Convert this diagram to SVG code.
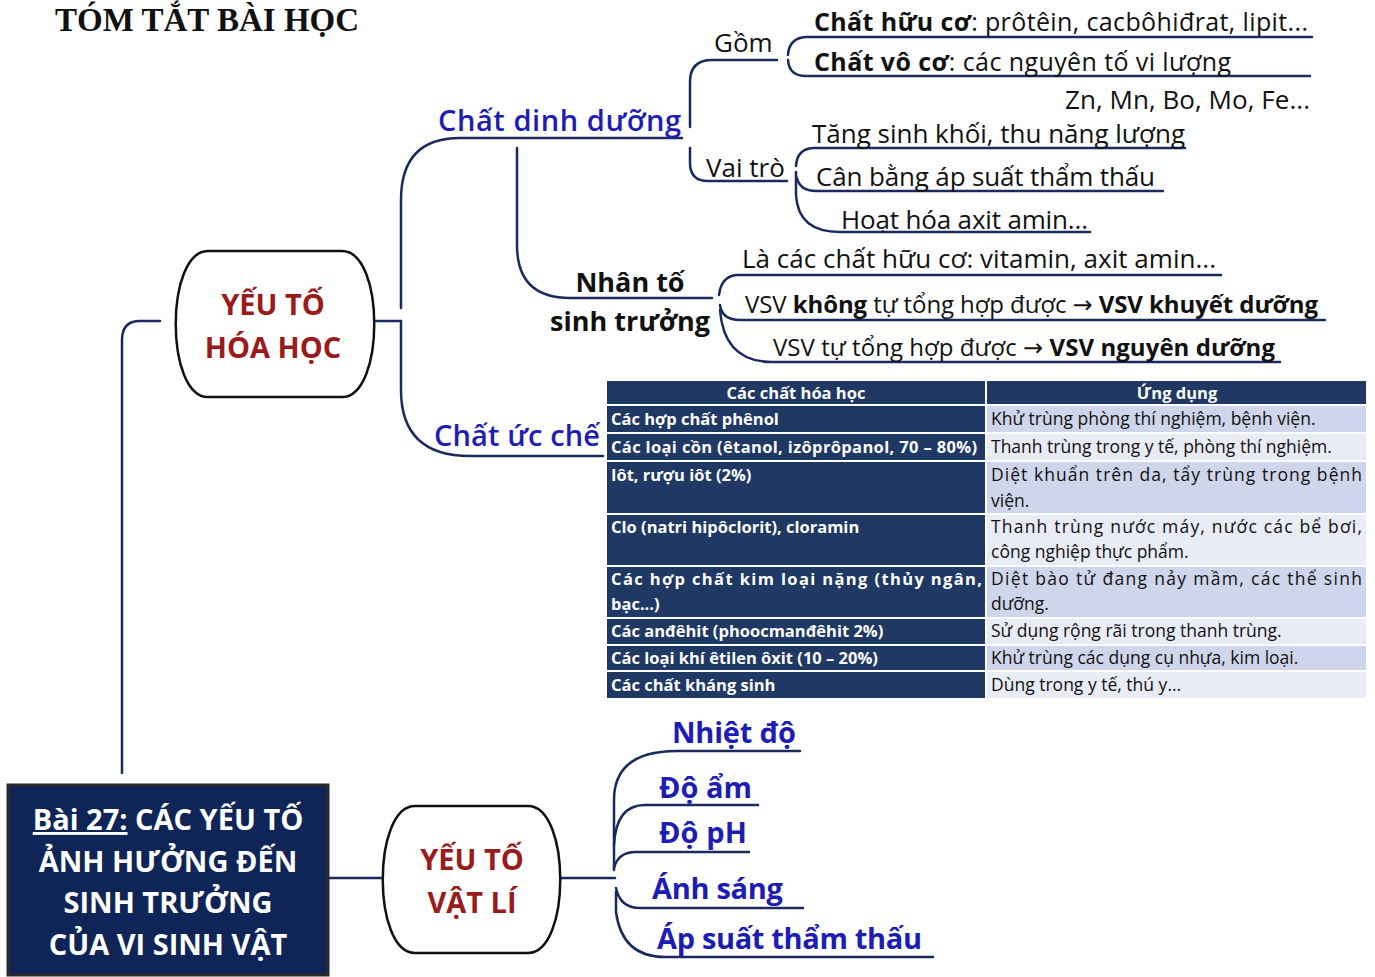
<svg xmlns="http://www.w3.org/2000/svg" width="1375" height="977" viewBox="0 0 1375 977">
<style>
.c{fill:none;stroke:#1b2a5e;stroke-width:2.5;stroke-linecap:round}
.f{font-family:"Open Sans","Noto Sans","DejaVu Sans",sans-serif}
.reg{font-size:26px;fill:#111}
.sm{font-size:24px;fill:#111}
.md{font-size:25px;fill:#111}
.bk{font-size:27px;font-weight:700;fill:#111}
.bl{font-size:29px;font-weight:700;fill:#1d1db5}
.bl6{font-size:29px;font-weight:600;fill:#1d1db5}
.red{font-size:29px;font-weight:700;fill:#9a1b1b;text-anchor:middle}
.wh{font-size:29px;font-weight:700;fill:#fff;text-anchor:middle}
.node{fill:#fff;stroke:#111;stroke-width:2.5}
.hd{fill:#1f3864}
.d1{fill:#cfd5ea}
.d2{fill:#e9ebf5}
.tl{font-size:16.5px;font-weight:700;fill:#fff}
.th{font-size:16.5px;font-weight:700;fill:#fff;text-anchor:middle}
.tr{font-size:17.5px;fill:#111}
.grid{stroke:#fff;stroke-width:2}
</style>
<rect width="1375" height="977" fill="#fff"/>
<text id="title" x="55" y="31" font-family="Liberation Serif, serif" font-size="33" font-weight="700" fill="#111">TÓM TẮT BÀI HỌC</text>

<g id="connectors">
<path class="c" d="M160,321 H140 Q122,321 122,340 V773"/>
<path class="c" d="M328,878 H383"/>
<path class="c" d="M370,321 H401"/>
<path class="c" d="M401,308 V200 Q401,138 460,138 H682"/>
<path class="c" d="M401,321 V390 Q401,456 470,456 H603"/>
<path class="c" d="M690,127 V82 Q690,60 712,60 H777"/>
<path class="c" d="M690,148 V163 Q690,181 708,181 H787"/>
<path class="c" d="M1312,37 H806 Q789,38 788,55"/>
<path class="c" d="M788,60 Q789,76 806,76 H1310"/>
<path class="c" d="M1185,148 H813 Q797,149 796,166"/>
<path class="c" d="M797,178 Q800,191 816,191 H1163"/>
<path class="c" d="M796,172 V195 Q798,232 840,232 H1090"/>
<path class="c" d="M517,148 V245 Q517,298 570,298 H712"/>
<path class="c" d="M1221,275 H736 Q721,277 719,295"/>
<path class="c" d="M720,305 Q722,320 740,320 H1325"/>
<path class="c" d="M720,310 Q724,362 772,362 H1280"/>
<path class="c" d="M560,878 H615"/>
<path class="c" d="M614,870 V800 Q614,751 677,751 H800"/>
<path class="c" d="M614,845 Q616,805 645,805 H758"/>
<path class="c" d="M614,868 Q618,852 636,852 H749"/>
<path class="c" d="M616,888 Q620,908 640,908 H803"/>
<path class="c" d="M616,892 V912 Q622,957 665,957 H933"/>
</g>

<g id="main">
<rect x="8" y="785" width="320" height="190" fill="#0f2557" stroke="#2a2a2a" stroke-width="3"/>
<text class="f wh" x="168" y="830"><tspan text-decoration="underline">Bài 27:</tspan> CÁC YẾU TỐ</text>
<text class="f wh" x="168" y="872">ẢNH HƯỞNG ĐẾN</text>
<text class="f wh" x="168" y="913">SINH TRƯỞNG</text>
<text class="f wh" x="168" y="955">CỦA VI SINH VẬT</text>
</g>

<g id="hoahoc">
<path class="node" d="M208,251 H342 C385,251 385,397 342,397 H208 C165,397 165,251 208,251 Z"/>
<text class="f red" x="273" y="315">YẾU TỐ</text>
<text class="f red" x="273" y="358">HÓA HỌC</text>
</g>

<g id="vatli">
<path class="node" d="M415,806 H528 C571,806 571,953 528,953 H415 C372,953 372,806 415,806 Z"/>
<text class="f red" x="472" y="870">YẾU TỐ</text>
<text class="f red" x="472" y="913">VẬT LÍ</text>
</g>

<g id="dinhduong">
<text class="f bl6" x="438" y="131" textLength="243" lengthAdjust="spacing">Chất dinh dưỡng</text>
</g>
<g id="gom"><text class="f reg" x="714" y="52">Gồm</text></g>
<g id="huuco"><text class="f md" x="814" y="31" textLength="494" lengthAdjust="spacing"><tspan font-weight="700">Chất hữu cơ</tspan>: prôtêin, cacbôhiđrat, lipit...</text></g>
<g id="voco"><text class="f md" x="814" y="71" textLength="417" lengthAdjust="spacing"><tspan font-weight="700">Chất vô cơ</tspan>: các nguyên tố vi lượng</text>
<text class="f reg" x="1065" y="109" textLength="245" lengthAdjust="spacing">Zn, Mn, Bo, Mo, Fe...</text></g>
<g id="vaitro"><text class="f reg" x="706" y="177">Vai trò</text></g>
<g id="tang"><text class="f reg" x="812" y="143" textLength="373" lengthAdjust="spacing">Tăng sinh khối, thu năng lượng</text></g>
<g id="canbang"><text class="f reg" x="816" y="186" textLength="339" lengthAdjust="spacing">Cân bằng áp suất thẩm thấu</text></g>
<g id="hoathoa"><text class="f reg" x="841" y="229" textLength="247" lengthAdjust="spacing">Hoạt hóa axit amin...</text></g>

<g id="nhanto">
<text class="f bk" x="630" y="292" text-anchor="middle">Nhân tố</text>
<text class="f bk" x="630" y="331" text-anchor="middle">sinh trưởng</text>
</g>
<g id="laca"><text class="f reg" x="742" y="268" textLength="474" lengthAdjust="spacing">Là các chất hữu cơ: vitamin, axit amin...</text></g>
<g id="khuyet"><text class="f sm" x="745" y="313" textLength="573" lengthAdjust="spacing">VSV <tspan font-weight="700">không</tspan> tự tổng hợp được → <tspan font-weight="700">VSV khuyết dưỡng</tspan></text></g>
<g id="nguyen"><text class="f sm" x="773" y="356" textLength="502" lengthAdjust="spacing">VSV tự tổng hợp được → <tspan font-weight="700">VSV nguyên dưỡng</tspan></text></g>

<g id="ucche"><text class="f bl6" x="434" y="446" textLength="166" lengthAdjust="spacing">Chất ức chế</text></g>

<g id="table">
<rect class="hd" x="607" y="381" width="759" height="24"/>
<rect class="hd" x="607" y="405" width="379" height="293"/>
<rect class="d1" x="986" y="405" width="380" height="28"/>
<rect class="d2" x="986" y="433" width="380" height="28"/>
<rect class="d1" x="986" y="461" width="380" height="53"/>
<rect class="d2" x="986" y="514" width="380" height="52"/>
<rect class="d1" x="986" y="566" width="380" height="52"/>
<rect class="d2" x="986" y="618" width="380" height="27"/>
<rect class="d1" x="986" y="645" width="380" height="26"/>
<rect class="d2" x="986" y="671" width="380" height="27"/>
<g class="grid">
<line x1="607" y1="405" x2="1366" y2="405"/>
<line x1="607" y1="433" x2="1366" y2="433"/>
<line x1="607" y1="461" x2="1366" y2="461"/>
<line x1="607" y1="514" x2="1366" y2="514"/>
<line x1="607" y1="566" x2="1366" y2="566"/>
<line x1="607" y1="618" x2="1366" y2="618"/>
<line x1="607" y1="645" x2="1366" y2="645"/>
<line x1="607" y1="671" x2="1366" y2="671"/>
<line x1="986" y1="381" x2="986" y2="698"/>
</g>
<text class="f th" x="796" y="399">Các chất hóa học</text>
<text class="f th" x="1177" y="399">Ứng dụng</text>
<text class="f tl" x="611" y="425">Các hợp chất phênol</text>
<text class="f tl" x="611" y="453" textLength="366" lengthAdjust="spacing">Các loại cồn (êtanol, izôprôpanol, 70 – 80%)</text>
<text class="f tl" x="611" y="481">Iôt, rượu iôt (2%)</text>
<text class="f tl" x="611" y="533">Clo (natri hipôclorit), cloramin</text>
<text class="f tl" x="611" y="585" textLength="371" lengthAdjust="spacing">Các hợp chất kim loại nặng (thủy ngân,</text>
<text class="f tl" x="611" y="610">bạc...)</text>
<text class="f tl" x="611" y="637">Các anđêhit (phoocmanđêhit 2%)</text>
<text class="f tl" x="611" y="664">Các loại khí êtilen ôxit (10 – 20%)</text>
<text class="f tl" x="611" y="691">Các chất kháng sinh</text>
<text class="f tr" x="991" y="425">Khử trùng phòng thí nghiệm, bệnh viện.</text>
<text class="f tr" x="991" y="453">Thanh trùng trong y tế, phòng thí nghiệm.</text>
<text class="f tr" x="991" y="481" textLength="371" lengthAdjust="spacing">Diệt khuẩn trên da, tẩy trùng trong bệnh</text>
<text class="f tr" x="991" y="507">viện.</text>
<text class="f tr" x="991" y="533" textLength="371" lengthAdjust="spacing">Thanh trùng nước máy, nước các bể bơi,</text>
<text class="f tr" x="991" y="558">công nghiệp thực phẩm.</text>
<text class="f tr" x="991" y="585" textLength="371" lengthAdjust="spacing">Diệt bào tử đang nảy mầm, các thể sinh</text>
<text class="f tr" x="991" y="610">dưỡng.</text>
<text class="f tr" x="991" y="637">Sử dụng rộng rãi trong thanh trùng.</text>
<text class="f tr" x="991" y="664">Khử trùng các dụng cụ nhựa, kim loại.</text>
<text class="f tr" x="991" y="691">Dùng trong y tế, thú y...</text>
</g>

<g id="nhietdo"><text class="f bl" x="672" y="743" textLength="124" lengthAdjust="spacing">Nhiệt độ</text></g>
<g id="doam"><text class="f bl" x="659" y="798" textLength="93" lengthAdjust="spacing">Độ ẩm</text></g>
<g id="doph"><text class="f bl" x="659" y="843" textLength="88" lengthAdjust="spacing">Độ pH</text></g>
<g id="anhsang"><text class="f bl" x="652" y="899" textLength="131" lengthAdjust="spacing">Ánh sáng</text></g>
<g id="apsuat"><text class="f bl" x="657" y="949" textLength="265" lengthAdjust="spacing">Áp suất thẩm thấu</text></g>
</svg>
